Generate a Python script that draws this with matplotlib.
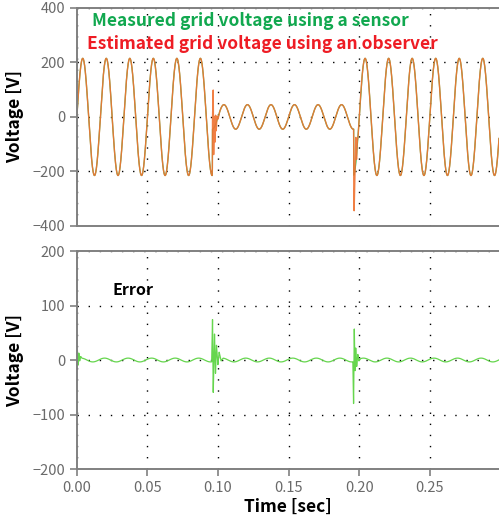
import numpy as np
import matplotlib.pyplot as plt

# grid voltage: 60 Hz, normal / sag / normal
freq = 60.0
seg_start = [0.0, 0.0960, 0.1961]
seg_amp = [215.0, 45.0, 215.0]
t_end = 0.299

# observer deviation from measured voltage (estimated - measured)
est_dev_t = [0.0958, 0.0962, 0.0966, 0.0969, 0.0973, 0.0977, 0.0982, 0.0987, 0.0993, 0.1000, 0.1010,
             0.1960, 0.1962, 0.1964, 0.1968, 0.1972, 0.1976, 0.1981, 0.1986, 0.1992, 0.2000]
est_dev_v = [0, 60, 145, -100, 40, -60, 35, -30, 15, -8, 0,
             0, -120, -135, -60, 40, 95, -15, 20, -8, 0]

# error trace: 60 Hz ripple + transients
ripple_amp = 3.5
ripple_peak_t = 0.0363
err_t = [0.0, 0.0004, 0.0009, 0.0014, 0.0020, 0.0027, 0.0035,
         0.0955, 0.0961, 0.0966, 0.0975, 0.0982, 0.0989, 0.0999, 0.1008, 0.1022, 0.1036,
         0.1955, 0.1960, 0.1965, 0.1970, 0.1975, 0.1982, 0.1990, 0.1998, 0.2010]
err_v = [0, 15, -12, 10, -5, 3, 0,
         0, 79, -58, 50, -24, 27, -10, 12, -5, 0,
         0, -79, 61, -18, 24, -11, 10, -3, 0]

t = np.linspace(0, t_end, 12000)
amp = np.array(seg_amp)[np.searchsorted(seg_start, t, side='right') - 1]
measured = amp * np.sin(2 * np.pi * freq * t)
estimated = measured + np.interp(t, est_dev_t, est_dev_v)
error = ripple_amp * np.cos(2 * np.pi * freq * (t - ripple_peak_t)) + np.interp(t, err_t, err_v)

plt.rcParams['font.family'] = ['Noto Sans CJK KR', 'DejaVu Sans']

fig = plt.figure(figsize=(4.99, 5.17), dpi=100)
ax1 = fig.add_axes([0.154, 0.563, 0.846, 0.4217])
ax2 = fig.add_axes([0.154, 0.0928, 0.846, 0.4217])

ax1.plot(t, measured, color='#3cbf50', lw=0.9)
ax1.plot(t, estimated, color='#ef7434', lw=1.0, alpha=0.92)
ax2.plot(t, error, color='#66d64e', lw=0.9)

grid_ls = (0, (1, 7))
for ax in (ax1, ax2):
    ax.set_xlim(0, t_end)
    ax.set_xticks([0.0, 0.05, 0.10, 0.15, 0.20, 0.25])
    ax.grid(True, color='black', linestyle=grid_ls, lw=1.0)
    ax.spines['right'].set_visible(False)
    for s in ('left', 'top', 'bottom'):
        ax.spines[s].set_color('#808080')
        ax.spines[s].set_linewidth(1.4)
    ax.tick_params(colors='#808080', labelcolor='#6a6a6a', labelsize=10.5, length=5, width=1.2)
    ax.set_ylabel('Voltage [V]', fontsize=12.5, fontweight='bold', labelpad=6)

ax1.set_ylim(-400, 400)
ax1.set_yticks([-400, -200, 0, 200, 400])
ax1.set_yticklabels(['\u2212400', '\u2212200', '0', '200', '400'], fontweight='light')
ax1.tick_params(axis='x', bottom=False, labelbottom=False)

ax2.set_ylim(-200, 200)
ax2.set_yticks([-200, -100, 0, 100, 200])
ax2.set_yticklabels(['\u2212200', '\u2212100', '0', '100', '200'], fontweight='light')
ax2.set_xticklabels(['0.00', '0.05', '0.10', '0.15', '0.20', '0.25'], fontweight='light')
ax2.set_xlabel('Time [sec]', fontsize=12.5, fontweight='bold', labelpad=2)

ax1.text(0.037, 0.938, 'Measured grid voltage using a sensor', transform=ax1.transAxes,
         color='#11a84f', fontsize=12.5, fontweight='bold', va='center')
ax1.text(0.025, 0.833, 'Estimated grid voltage using an observer', transform=ax1.transAxes,
         color='#ee1c24', fontsize=12.5, fontweight='bold', va='center')
ax2.text(0.085, 0.82, 'Error', transform=ax2.transAxes,
         color='black', fontsize=11.5, fontweight='bold', va='center')

fig.savefig('out.png', dpi=100)
